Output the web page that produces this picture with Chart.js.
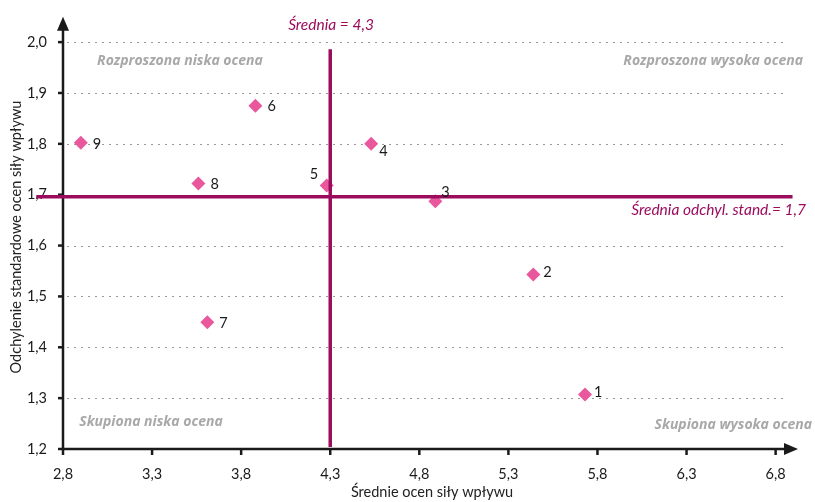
<!DOCTYPE html>
<html>
<head>
<meta charset="utf-8">
<script src="https://cdn.jsdelivr.net/npm/chart.js@4"></script>
<style>
  html, body { margin: 0; padding: 0; background: #fff; }
  #wrap { width: 815px; height: 502px; }
</style>
</head>
<body>
<div id="wrap"><canvas id="chart"></canvas></div>
<script>
// data
const pointLabels = ["1", "2", "3", "4", "5", "6", "7", "8", "9"];
const meanRating = [5.73, 5.44, 4.89, 4.53, 4.28, 3.88, 3.61, 3.56, 2.9];
const stdDev = [1.307, 1.543, 1.687, 1.8, 1.718, 1.875, 1.449, 1.722, 1.802];
const xTicks = [2.8, 3.3, 3.8, 4.3, 4.8, 5.3, 5.8, 6.3, 6.8];
const yTicks = [1.2, 1.3, 1.4, 1.5, 1.6, 1.7, 1.8, 1.9, 2.0];
const meanX = 4.3;
const meanY = 1.696;

// label offsets (px) next to each point
const labelOffsets = [[9, -2], [10, -2], [6, -9], [8, 7], [-17, -11], [12, 1], [12, 1], [12, 1], [12, 1]];

const pink = "#e9579d";
const plum = "#9c0c5e";
const fmt = (v) => v.toFixed(1).replace(".", ",");

const overlay = {
  id: "overlay",
  beforeDatasetsDraw(chart) {
    const { ctx, scales: { x, y } } = chart;
    ctx.save();
    // dotted grid
    ctx.strokeStyle = "#9a9a9a";
    ctx.lineWidth = 1;
    ctx.setLineDash([2, 5]);
    yTicks.slice(1).forEach((v) => {
      const py = Math.round(y.getPixelForValue(v)) + 0.5;
      ctx.beginPath();
      ctx.moveTo(x.getPixelForValue(2.8) + 4, py);
      ctx.lineTo(x.getPixelForValue(6.87), py);
      ctx.stroke();
    });
    ctx.setLineDash([]);

    // axes
    const x0 = x.getPixelForValue(2.8);
    const y0 = y.getPixelForValue(1.2);
    const xEnd = x.getPixelForValue(x.max);
    const yEnd = y.getPixelForValue(y.max);
    ctx.strokeStyle = "#1a1a1a";
    ctx.fillStyle = "#1a1a1a";
    ctx.lineWidth = 2.5;
    ctx.beginPath();
    ctx.moveTo(x0, yEnd + 10);
    ctx.lineTo(x0, y0);
    ctx.lineTo(xEnd - 10, y0);
    ctx.stroke();
    // arrows
    ctx.beginPath();
    ctx.moveTo(x0, yEnd);
    ctx.lineTo(x0 - 6, yEnd + 14);
    ctx.lineTo(x0 + 6, yEnd + 14);
    ctx.closePath();
    ctx.fill();
    ctx.beginPath();
    ctx.moveTo(xEnd + 1, y0);
    ctx.lineTo(xEnd - 13, y0 - 6);
    ctx.lineTo(xEnd - 13, y0 + 6);
    ctx.closePath();
    ctx.fill();
    // tick marks
    ctx.lineWidth = 2.5;
    xTicks.forEach((v) => {
      const px = x.getPixelForValue(v);
      ctx.beginPath();
      ctx.moveTo(px, y0);
      ctx.lineTo(px, y0 + 6);
      ctx.stroke();
    });
    yTicks.forEach((v) => {
      const py = y.getPixelForValue(v);
      ctx.beginPath();
      ctx.moveTo(x0 - 5, py);
      ctx.lineTo(x0, py);
      ctx.stroke();
    });

    // quadrant captions
    ctx.font = "italic bold 14px 'Open Sans'";
    ctx.fillStyle = "#a8a8a8";
    ctx.textBaseline = "middle";
    ctx.textAlign = "center";
    ctx.fillText("Rozproszona niska ocena", 180, 61);
    ctx.fillText("Skupiona niska ocena", 151, 422);
    ctx.textAlign = "right";
    ctx.fillText("Rozproszona wysoka ocena", 803, 61);
    ctx.fillText("Skupiona wysoka ocena", 812, 425);

    // axis titles
    ctx.font = "14.5px Lato";
    ctx.fillStyle = "#222";
    ctx.textAlign = "center";
    ctx.fillText("Średnie ocen siły wpływu", 432, 492);
    ctx.save();
    ctx.translate(16, 237);
    ctx.rotate(-Math.PI / 2);
    ctx.fillText("Odchylenie standardowe ocen siły wpływu", 0, 0);
    ctx.restore();
    ctx.restore();
  },
  afterDatasetsDraw(chart) {
    const { ctx, scales: { x, y } } = chart;
    ctx.save();
    // mean lines
    ctx.strokeStyle = plum;
    ctx.lineWidth = 3.5;
    const px = x.getPixelForValue(meanX);
    const py = y.getPixelForValue(meanY);
    ctx.beginPath();
    ctx.moveTo(px, y.getPixelForValue(1.986));
    ctx.lineTo(px, y.getPixelForValue(1.204));
    ctx.stroke();
    ctx.beginPath();
    ctx.moveTo(x.getPixelForValue(2.65), py);
    ctx.lineTo(x.getPixelForValue(6.895), py);
    ctx.stroke();

    ctx.font = "italic 15.5px Lato";
    ctx.fillStyle = plum;
    ctx.textBaseline = "middle";
    ctx.textAlign = "center";
    ctx.fillText("Średnia = " + fmt(meanX), 331, 25);
    ctx.textAlign = "right";
    ctx.fillText("Średnia odchyl. stand.= " + fmt(1.7), 806, 210);

    // point labels
    ctx.font = "14.5px Lato";
    ctx.fillStyle = "#1a1a1a";
    ctx.textAlign = "left";
    chart.getDatasetMeta(0).data.forEach((pt, i) => {
      const [dx, dy] = labelOffsets[i];
      ctx.fillText(pointLabels[i], pt.x + dx, pt.y + dy);
    });
    ctx.restore();
  },
};

new Chart(document.getElementById("chart"), {
  type: "scatter",
  data: {
    datasets: [
      {
        label: "Czynniki",
        data: meanRating.map((v, i) => ({ x: v, y: stdDev[i] })),
        pointStyle: "rectRot",
        pointRadius: 7,
        pointHoverRadius: 7,
        backgroundColor: pink,
        borderColor: pink,
        borderWidth: 0,
      },
    ],
  },
  options: {
    responsive: true,
    maintainAspectRatio: false,
    animation: false,
    events: [],
    layout: { padding: { top: 12, right: 18, left: 0, bottom: 0 } },
    plugins: {
      legend: { display: false },
      tooltip: { enabled: false },
    },
    scales: {
      x: {
        type: "linear",
        min: 2.8,
        max: 6.92,
        afterBuildTicks: (s) => { s.ticks = xTicks.map((v) => ({ value: v })); },
        afterFit: (s) => { s.height = 53; },
        grid: { display: false },
        border: { display: false },
        ticks: {
          padding: 9,
          color: "#1a1a1a",
          font: { family: "Lato", size: 14.5 },
          callback: (v) => fmt(v),
          maxRotation: 0,
          autoSkip: false,
        },
      },
      y: {
        type: "linear",
        min: 1.2,
        max: 2.05,
        afterBuildTicks: (s) => { s.ticks = yTicks.map((v) => ({ value: v })); },
        afterFit: (s) => { s.width = 63; },
        grid: { display: false },
        border: { display: false },
        ticks: {
          padding: 8,
          color: "#1a1a1a",
          font: { family: "Lato", size: 14.5 },
          callback: (v) => fmt(v),
          autoSkip: false,
        },
      },
    },
  },
  plugins: [overlay],
});
</script>
</body>
</html>
